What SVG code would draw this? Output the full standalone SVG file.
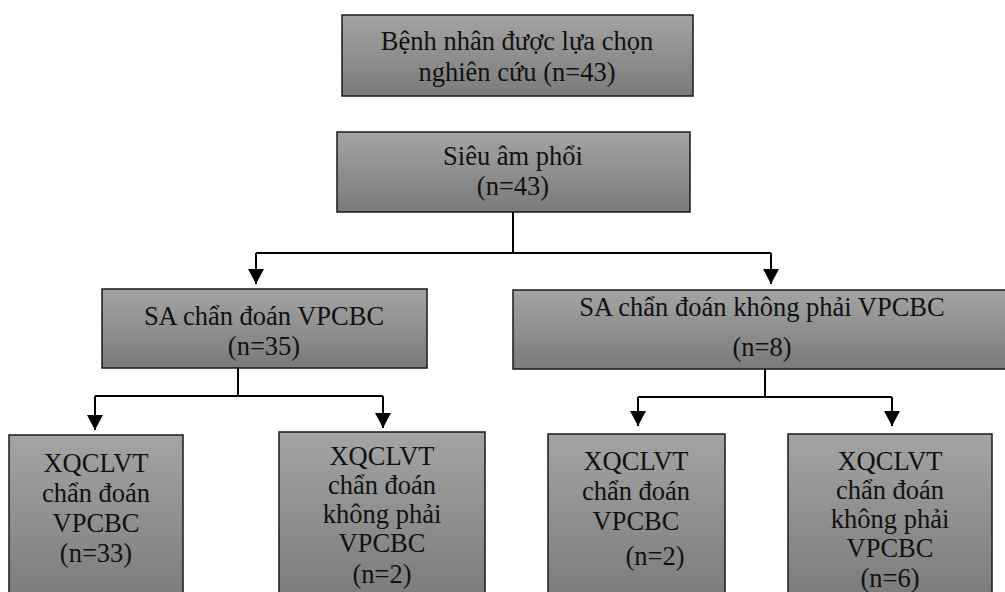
<svg xmlns="http://www.w3.org/2000/svg" width="1005" height="592" viewBox="0 0 1005 592">
  <defs>
    <linearGradient id="g" x1="0" y1="0" x2="0" y2="1">
      <stop offset="0" stop-color="#a4a4a4"/>
      <stop offset="1" stop-color="#7a7a7a"/>
    </linearGradient>
    <marker id="ah" markerUnits="userSpaceOnUse" markerWidth="16" markerHeight="16" viewBox="0 0 16 16" refX="15" refY="8" orient="auto">
      <path d="M0,0 L15,8 L0,16 Z" fill="#000"/>
    </marker>
    <style>
      .box{fill:url(#g);stroke:#1a1a1a;stroke-width:1.5}
      .t{font-family:'Times New Roman',Times,Tinos,'Noto Serif','FreeSerif','Liberation Serif','DejaVu Serif',serif;font-size:26.5px;fill:#111;text-anchor:middle}
      .c{fill:none;stroke:#000;stroke-width:2}
    </style>
  </defs>
  <rect width="1005" height="592" fill="#fff"/>

  <g id="n1">
    <rect class="box" x="342" y="15" width="351" height="81"/>
    <text class="t" x="517" y="50">Bệnh nhân được lựa chọn</text>
    <text class="t" x="517" y="81">nghiên cứu (n=43)</text>
  </g>
  <g id="n2">
    <rect class="box" x="337" y="132" width="353" height="80"/>
    <text class="t" x="513" y="165">Siêu âm phổi</text>
    <text class="t" x="513" y="195">(n=43)</text>
  </g>
  <g id="n3">
    <rect class="box" x="102" y="289" width="325" height="79"/>
    <text class="t" x="264" y="325">SA chẩn đoán VPCBC</text>
    <text class="t" x="264" y="355">(n=35)</text>
  </g>
  <g id="n4">
    <rect class="box" x="513" y="290" width="499" height="79"/>
    <text class="t" x="762" y="316">SA chẩn đoán không phải VPCBC</text>
    <text class="t" x="762" y="356">(n=8)</text>
  </g>
  <g id="n5">
    <rect class="box" x="9" y="435" width="174" height="170"/>
    <text class="t" x="96" y="472">XQCLVT</text>
    <text class="t" x="96" y="502">chẩn đoán</text>
    <text class="t" x="96" y="532">VPCBC</text>
    <text class="t" x="96" y="562">(n=33)</text>
  </g>
  <g id="n6">
    <rect class="box" x="279" y="432" width="206" height="170"/>
    <text class="t" x="382" y="465">XQCLVT</text>
    <text class="t" x="382" y="494">chẩn đoán</text>
    <text class="t" x="382" y="523">không phải</text>
    <text class="t" x="382" y="552">VPCBC</text>
    <text class="t" x="382" y="583">(n=2)</text>
  </g>
  <g id="n7">
    <rect class="box" x="548" y="434" width="177" height="170"/>
    <text class="t" x="636" y="470">XQCLVT</text>
    <text class="t" x="636" y="500">chẩn đoán</text>
    <text class="t" x="636" y="530">VPCBC</text>
    <text class="t" x="655" y="565">(n=2)</text>
  </g>
  <g id="n8">
    <rect class="box" x="788" y="434" width="204" height="170"/>
    <text class="t" x="890" y="470">XQCLVT</text>
    <text class="t" x="890" y="499">chẩn đoán</text>
    <text class="t" x="890" y="528">không phải</text>
    <text class="t" x="890" y="557">VPCBC</text>
    <text class="t" x="890" y="587">(n=6)</text>
  </g>

  <g id="connectors">
    <path class="c" d="M513,212 V253"/>
    <path class="c" d="M256,253 H771"/>
    <path class="c" d="M256,253 V284" marker-end="url(#ah)"/>
    <path class="c" d="M771,253 V284" marker-end="url(#ah)"/>
    <path class="c" d="M238,368 V396"/>
    <path class="c" d="M95,396 H383"/>
    <path class="c" d="M95,396 V430" marker-end="url(#ah)"/>
    <path class="c" d="M383,396 V428" marker-end="url(#ah)"/>
    <path class="c" d="M765,369 V397"/>
    <path class="c" d="M638,397 H892"/>
    <path class="c" d="M638,397 V426" marker-end="url(#ah)"/>
    <path class="c" d="M892,397 V426" marker-end="url(#ah)"/>
  </g>
</svg>
